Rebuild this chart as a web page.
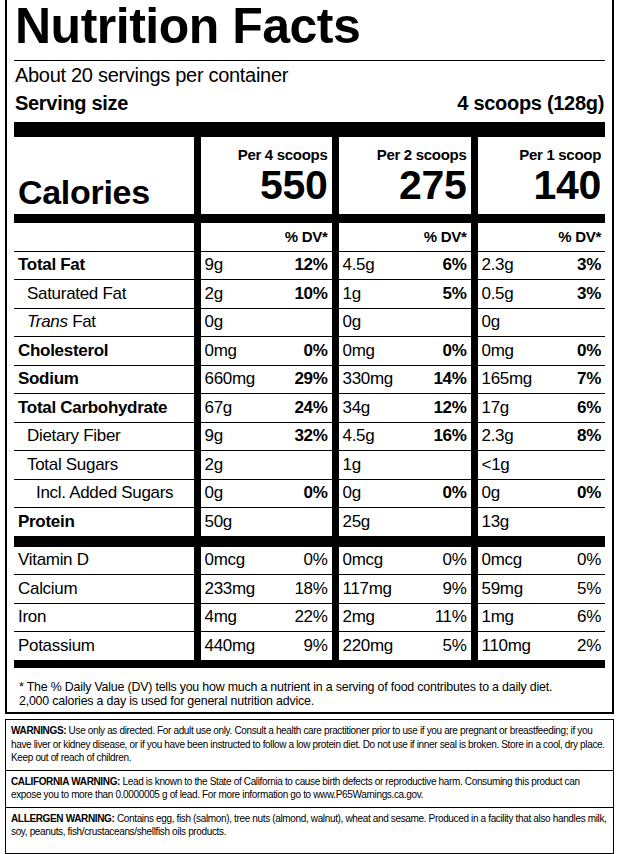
<!DOCTYPE html>
<html><head><meta charset="utf-8">
<script src="https://cdn.jsdelivr.net/npm/chart.js@4.4.0/dist/chart.umd.min.js"></script>
<style>
body{margin:0;background:#fff;font-family:"Liberation Sans",Arial,sans-serif;color:#000;width:619px;height:854px;overflow:hidden}
#label{position:absolute;left:5px;top:0;width:609px;height:714px;border:2px solid #000;border-top:none;box-sizing:border-box}
#title{position:absolute;left:8px;top:-3px;font-size:50px;font-weight:bold;letter-spacing:-0.5px}
#hr1{position:absolute;left:7px;right:7px;top:60px;height:1px;background:#000}
#serv{position:absolute;left:8px;top:64px;font-size:20px;letter-spacing:-0.3px}
#size{position:absolute;left:8px;right:8px;top:92px;font-size:20px;font-weight:bold;letter-spacing:-0.3px}
#size span{float:right}
#bar1{position:absolute;left:7px;right:7px;top:122px;height:15px;background:#000}
table{position:absolute;left:7px;top:137px;border-collapse:collapse;table-layout:fixed;width:591px}
td{padding:0 4px;height:27.5px;border-bottom:1px solid #000;font-size:17px;white-space:nowrap;letter-spacing:-0.3px;overflow:hidden}
td.c{border-left:7px solid #000}
td.b{font-weight:bold}
.r{float:right;font-weight:bold}
.rn{float:right}
tr.hd td{height:75px;border-bottom:9px solid #000;vertical-align:top}
tr.thick td{border-bottom:11px solid #000}
tr.last td{border-bottom:8px solid #000}
.per{display:block;text-align:right;font-weight:bold;font-size:15px;margin-top:9px}
.big{display:block;text-align:right;font-weight:bold;font-size:41px;line-height:40px;margin-top:2px}
#foot{position:absolute;left:12px;top:680px;font-size:12.4px;line-height:14px;letter-spacing:-0.2px}
#warn{position:absolute;left:5px;top:719px;width:609px;height:135px;border:1.5px solid #000;box-sizing:border-box;font-family:"Liberation Sans Narrow","Liberation Sans",Arial,sans-serif;font-size:10px;line-height:13.5px;letter-spacing:-0.35px}
#warn div{padding:4px 5px 5px 5px;border-bottom:1.5px solid #000}
#warn div:last-child{border-bottom:none}
</style></head>
<body>
<div id="label">
<div id="title">Nutrition Facts</div>
<div id="hr1"></div>
<div id="serv">About 20 servings per container</div>
<div id="size">Serving size<span>4 scoops (128g)</span></div>
<div id="bar1"></div>
<table id="tbl"><colgroup><col style="width:183px"><col style="width:138px"><col style="width:139px"><col style="width:131px"></colgroup><tbody id="body"></tbody></table>
<div id="foot">* The % Daily Value (DV) tells you how much a nutrient in a serving of food contributes to a daily diet.<br>2,000 calories a day is used for general nutrition advice.</div>
</div>
<div id="warn">
<div><b>WARNINGS:</b> Use only as directed. For adult use only. Consult a health care practitioner prior to use if you are pregnant or breastfeeding; if you have liver or kidney disease, or if you have been instructed to follow a low protein diet. Do not use if inner seal is broken. Store in a cool, dry place. Keep out of reach of children.</div>
<div><b>CALIFORNIA WARNING:</b> Lead is known to the State of California to cause birth defects or reproductive harm. Consuming this product can expose you to more than 0.0000005 g of lead. For more information go to www.P65Warnings.ca.gov.</div>
<div><b>ALLERGEN WARNING:</b> Contains egg, fish (salmon), tree nuts (almond, walnut), wheat and sesame. Produced in a facility that also handles milk, soy, peanuts, fish/crustaceans/shellfish oils products.</div>
</div>
<script>
// columnas de porciones
var porciones = ['Per 4 scoops', 'Per 2 scoops', 'Per 1 scoop'];
var calorias = [550, 275, 140];
// nutrientes principales
var nutrientes = ['Total Fat', 'Saturated Fat', '<i>Trans</i> Fat', 'Cholesterol', 'Sodium', 'Total Carbohydrate', 'Dietary Fiber', 'Total Sugars', 'Incl. Added Sugars', 'Protein'];
var sangria = [0, 1, 1, 0, 0, 0, 1, 1, 2, 0];
var cant4 = ['9g', '2g', '0g', '0mg', '660mg', '67g', '9g', '2g', '0g', '50g'];
var dv4 = ['12%', '10%', '', '0%', '29%', '24%', '32%', '', '0%', ''];
var cant2 = ['4.5g', '1g', '0g', '0mg', '330mg', '34g', '4.5g', '1g', '0g', '25g'];
var dv2 = ['6%', '5%', '', '0%', '14%', '12%', '16%', '', '0%', ''];
var cant1 = ['2.3g', '0.5g', '0g', '0mg', '165mg', '17g', '2.3g', '<1g', '0g', '13g'];
var dv1 = ['3%', '3%', '', '0%', '7%', '6%', '8%', '', '0%', ''];
// vitaminas y minerales
var minerales = ['Vitamin D', 'Calcium', 'Iron', 'Potassium'];
var minCant4 = ['0mcg', '233mg', '4mg', '440mg'];
var minDv4 = ['0%', '18%', '22%', '9%'];
var minCant2 = ['0mcg', '117mg', '2mg', '220mg'];
var minDv2 = ['0%', '9%', '11%', '5%'];
var minCant1 = ['0mcg', '59mg', '1mg', '110mg'];
var minDv1 = ['0%', '5%', '6%', '2%'];

var html = '<tr class="hd"><td style="vertical-align:bottom;padding-bottom:2px;font-size:34px;font-weight:bold">Calories</td>';
porciones.forEach(function(p, i) {
    html += '<td class="c"><span class="per">' + p + '</span><span class="big">' + calorias[i] + '</span></td>';
});
html += '</tr><tr><td></td>';
for (var k = 0; k < 3; k++) html += '<td class="c"><span class="r" style="font-size:15px">% DV*</span></td>';
html += '</tr>';
nutrientes.forEach(function(n, i) {
    var pad = sangria[i] === 0 ? 4 : (sangria[i] === 1 ? 13 : 22);
    var b = sangria[i] === 0 ? ' class="b"' : '';
    var cls = i === nutrientes.length - 1 ? ' class="thick"' : '';
    html += '<tr' + cls + '><td' + b + ' style="padding-left:' + pad + 'px">' + n + '</td>';
    [[cant4, dv4], [cant2, dv2], [cant1, dv1]].forEach(function(c) {
        html += '<td class="c">' + c[0][i] + '<span class="r">' + c[1][i] + '</span></td>';
    });
    html += '</tr>';
});
minerales.forEach(function(n, i) {
    var cls = i === minerales.length - 1 ? ' class="last"' : '';
    html += '<tr' + cls + '><td>' + n + '</td>';
    [[minCant4, minDv4], [minCant2, minDv2], [minCant1, minDv1]].forEach(function(c) {
        html += '<td class="c">' + c[0][i] + '<span class="rn">' + c[1][i] + '</span></td>';
    });
    html += '</tr>';
});
document.getElementById('body').innerHTML = html;
</script>
</body></html>
